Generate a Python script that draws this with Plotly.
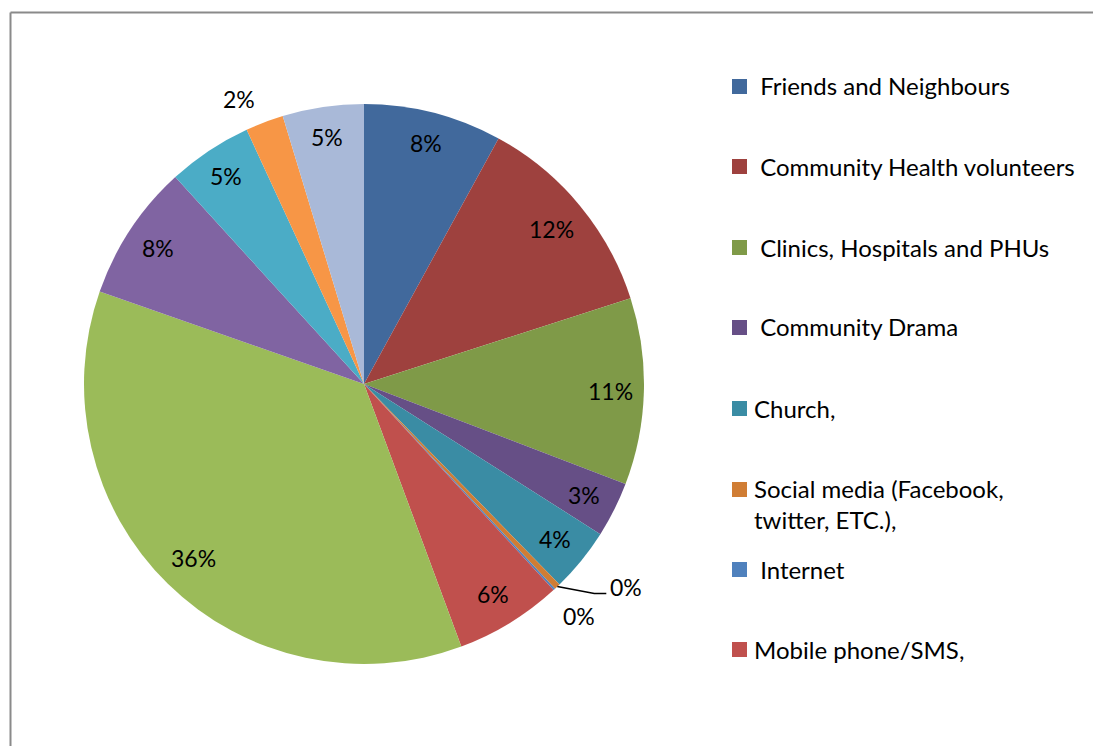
import math
import plotly.graph_objects as go

# ---- data ----
categories = [
    "Friends and Neighbours",
    "Community Health volunteers",
    "Clinics, Hospitals and PHUs",
    "Community Drama",
    "Church,",
    "Social media (Facebook, twitter, ETC.),",
    "Internet",
    "Mobile phone/SMS,",
    "Radio",
    "Television",
    "Posters/Billboards",
    "Newspapers",
    "Others",
]
values = [8.0, 12.1, 10.8, 3.2, 3.7, 0.35, 0.12, 6.2, 36.1, 7.9, 4.9, 2.2, 4.7]
legend_labels = [
    " Friends and Neighbours",
    " Community Health volunteers",
    " Clinics, Hospitals and PHUs",
    " Community Drama",
    "Church,",
    "Social media (Facebook,<br>twitter, ETC.),",
    " Internet",
    "Mobile phone/SMS,",
]

# ---- style ----
colors = ["#41699C", "#9E413E", "#7F9A48", "#664F86", "#3A8CA4", "#D07D34",
          "#4F81BD", "#C0504D", "#9BBB59", "#8064A2", "#4BACC6", "#F79646", "#A9B9D8"]
W, H = 1093, 746
CX, CY, R = 364, 384, 280
FONT = "Lato, Carlito, Calibri, sans-serif"
label_r = [0.89, 0.87, 0.88, 0.88, 0.88, None, 1.13, 0.88, 0.87, 0.88, 0.89, 1.11, 0.89]

def px(x, y):
    return x / W, 1 - y / H

fig = go.Figure(go.Pie(
    labels=categories, values=values, sort=False, direction="clockwise",
    rotation=0, marker=dict(colors=colors, line=dict(width=0)),
    textinfo="none", hoverinfo="label+percent", showlegend=False,
    domain=dict(x=[(CX - R) / W, (CX + R) / W], y=[1 - (CY + R) / H, 1 - (CY - R) / H]),
))

total = sum(values)
annotations = []
shapes = []
cum = 0.0
for i, v in enumerate(values):
    mid = (cum + v / 2) / total * 2 * math.pi
    cum += v
    txt = f"{round(v / total * 100):.0f}%"
    if label_r[i] is None:
        # leader-line label
        x0, y0 = CX + R * math.sin(mid), CY - R * math.cos(mid)
        xe, ye = x0 + 37, y0 + 7
        x1 = xe + 12
        shapes.append(dict(type="path", xref="paper", yref="paper",
                           path="M {} {} L {} {} L {} {}".format(*px(x0, y0), *px(xe, ye), *px(x1, ye)),
                           line=dict(color="black", width=1.5)))
        ax, ay = px(x1 + 2, ye - 7)
        annotations.append(dict(x=ax, y=ay, xref="paper", yref="paper", text=txt,
                                showarrow=False, xanchor="left", yanchor="middle",
                                font=dict(family=FONT, size=23, color="black")))
        continue
    lr = label_r[i] * R
    if i == 11:
        mid -= 0.05
    x, y = CX + lr * math.sin(mid), CY - lr * math.cos(mid)
    ax, ay = px(x, y)
    annotations.append(dict(x=ax, y=ay, xref="paper", yref="paper", text=txt,
                            showarrow=False, xanchor="center", yanchor="middle",
                            font=dict(family=FONT, size=23, color="black")))

# manual legend (only the visible entries)
row_y = [86, 166, 247, 327, 408, 489, 569, 649]
for i, lab in enumerate(legend_labels):
    y = row_y[i]
    shapes.append(dict(type="rect", xref="paper", yref="paper",
                       x0=732 / W, x1=747 / W, y0=1 - (y + 8) / H, y1=1 - (y - 7) / H,
                       fillcolor=colors[i], line=dict(width=0)))
    yy = y + (15 if "<br>" in lab else 0)
    annotations.append(dict(x=752 / W, y=1 - yy / H, xref="paper", yref="paper", text=lab,
                            showarrow=False, xanchor="left", yanchor="middle", align="left",
                            font=dict(family=FONT, size=24, color="black")))

# chart frame (cropped at right and bottom)
shapes.append(dict(type="line", xref="paper", yref="paper", x0=10.5 / W, x1=1.01,
                   y0=1 - 12.5 / H, y1=1 - 12.5 / H, line=dict(color="#8A8A8A", width=2)))
shapes.append(dict(type="line", xref="paper", yref="paper", x0=10.5 / W, x1=10.5 / W,
                   y0=1 - 12.5 / H, y1=-0.01, line=dict(color="#8A8A8A", width=2)))

fig.update_layout(width=W, height=H, margin=dict(l=0, r=0, t=0, b=0),
                  paper_bgcolor="white", plot_bgcolor="white",
                  annotations=annotations, shapes=shapes, showlegend=False)
fig.write_html("out.html")
